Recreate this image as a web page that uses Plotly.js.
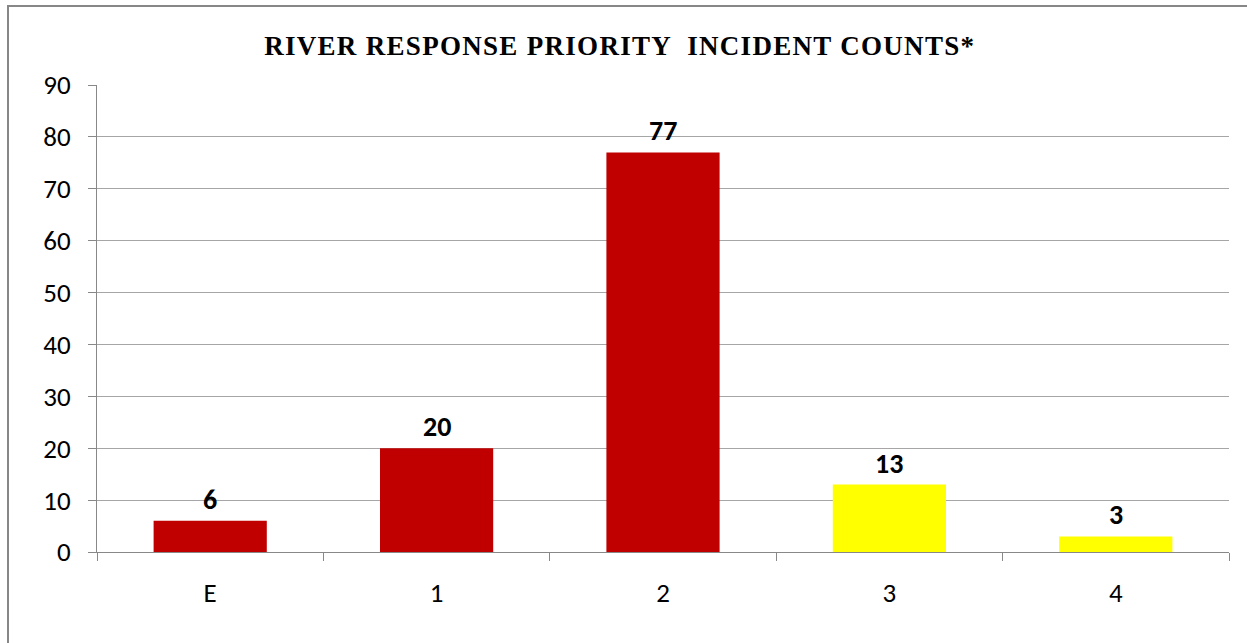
<!DOCTYPE html>
<html>
<head>
<meta charset="utf-8">
<script src="https://cdn.plot.ly/plotly-3.0.1.min.js"></script>
<style>html,body{margin:0;padding:0;background:#fff;}#chart{width:1247px;height:643px;}
.gtitle{letter-spacing:1.3px;}</style>
</head>
<body>
<div id="chart"></div>
<script>
const categories = ["E", "1", "2", "3", "4"];
const counts = [6, 20, 77, 13, 3];
const barColors = ["#C00000", "#C00000", "#C00000", "#FFFF00", "#FFFF00"];
const yTicks = [0, 10, 20, 30, 40, 50, 60, 70, 80, 90];
const titleText = "RIVER RESPONSE PRIORITY  INCIDENT COUNTS*";

const W = 1247, H = 643;
const mL = 97, mR = 18, mT = 85, mB = 91;
const pw = W - mL - mR, ph = H - mT - mB;
const px = x => (x - mL) / pw;
const py = y => (H - mB - y) / ph;

const sansFont = "Carlito, Lato, 'Liberation Sans', sans-serif";

const trace = {
  type: "bar",
  x: categories,
  y: counts,
  marker: { color: barColors, line: { width: 0 } },
  hoverinfo: "x+y"
};

const labels = categories.map((c, i) => ({
  x: c, y: counts[i], xref: "x", yref: "y",
  text: "<b>" + counts[i] + "</b>",
  showarrow: false, yanchor: "bottom", yshift: 2,
  font: { family: sansFont, size: 28, color: "#000" }
}));

const layout = {
  width: W, height: H,
  margin: { l: mL, r: mR, t: mT, b: mB },
  paper_bgcolor: "#fff",
  plot_bgcolor: "#fff",
  bargap: 0.5,
  showlegend: false,
  title: {
    text: "<b>" + titleText + "</b>",
    font: { family: "'Liberation Serif', 'Times New Roman', serif", size: 27, color: "#000" },
    x: 0.497, xanchor: "center",
    y: 1 - 46 / H, yanchor: "middle"
  },
  xaxis: {
    type: "category",
    tickson: "boundaries",
    ticks: "outside", ticklen: 8, tickcolor: "#888", tickwidth: 1,
    showline: true, linecolor: "#888", linewidth: 1,
    showgrid: false,
    tickfont: { family: sansFont, size: 27, color: "#000" },
    ticklabelstandoff: 17,
    fixedrange: true
  },
  yaxis: {
    range: [0, 90],
    tickvals: yTicks,
    ticktext: yTicks.map(String),
    ticks: "outside", ticklen: 8, tickcolor: "#888", tickwidth: 1,
    showline: true, linecolor: "#888", linewidth: 1,
    showgrid: true, gridcolor: "#a6a6a6", gridwidth: 1,
    zeroline: false,
    tickfont: { family: sansFont, size: 27, color: "#000" },
    ticklabelstandoff: 12,
    fixedrange: true
  },
  annotations: labels,
  shapes: [
    {
      type: "rect", xref: "paper", yref: "paper",
      x0: px(8), x1: px(1260), y0: py(660), y1: py(6),
      line: { color: "#878787", width: 2 },
      fillcolor: "rgba(0,0,0,0)", layer: "below"
    }
  ]
};

Plotly.newPlot("chart", [trace], layout, { displayModeBar: false, staticPlot: true });
</script>
</body>
</html>
